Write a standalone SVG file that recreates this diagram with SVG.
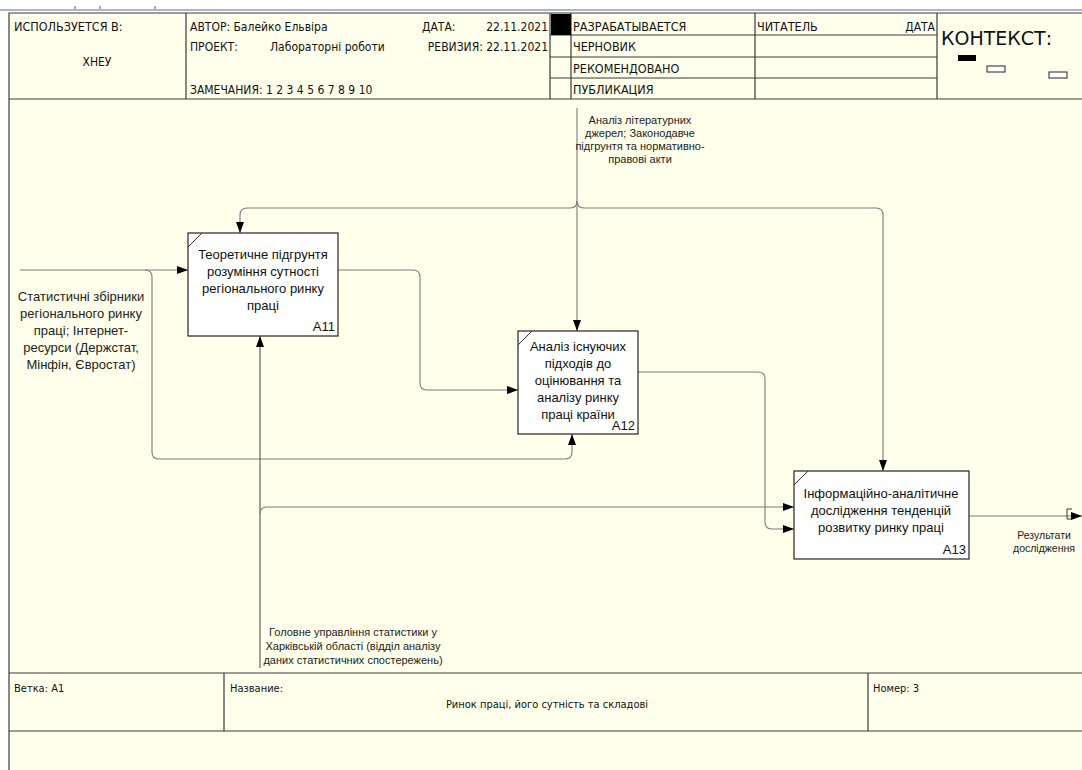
<svg xmlns="http://www.w3.org/2000/svg" width="1082" height="770" viewBox="0 0 1082 770">
<defs>
<marker id="ar" markerWidth="12" markerHeight="8" refX="11" refY="4" orient="auto" markerUnits="userSpaceOnUse">
<path d="M0,0 L11,4 L0,8 Z" fill="#000"/>
</marker>
<style>
.frm{stroke:#3a3a3a;stroke-width:1.2;fill:none}
.hd{font-family:"DejaVu Sans Condensed","DejaVu Sans",sans-serif;font-size:12px;fill:#111}
.hc{font-family:"DejaVu Sans Condensed","DejaVu Sans",sans-serif;font-size:12.5px;fill:#111}
.ft{font-family:"DejaVu Sans Condensed","DejaVu Sans",sans-serif;font-size:11px;fill:#111}
.nd{fill:#fff;stroke:#222;stroke-width:1.2}
.nt{font-family:"Liberation Sans",Arial,sans-serif;font-size:13px;fill:#111;text-anchor:middle}
.nn{font-family:"Liberation Sans",Arial,sans-serif;font-size:13px;fill:#111;text-anchor:end}
.cn{fill:none;stroke:#7a7a7a;stroke-width:1.1}
.lb{font-family:"Liberation Sans",Arial,sans-serif;font-size:11px;fill:#222;text-anchor:middle}
.lr{font-family:"Liberation Sans",Arial,sans-serif;font-size:10.5px;fill:#222;text-anchor:middle}
.lb2{font-family:"Liberation Sans",Arial,sans-serif;font-size:13px;fill:#222;text-anchor:middle}
</style>
</defs>
<rect x="0" y="0" width="1082" height="770" fill="#fff"/>
<rect x="0" y="9" width="1082" height="2" fill="#a8b6cc"/>
<g stroke="#556" stroke-width="1"><line x1="75" y1="6" x2="75" y2="9"/><line x1="100" y1="6" x2="100" y2="9"/><line x1="155" y1="6" x2="155" y2="9"/></g>
<rect x="9" y="13" width="1080" height="760" fill="#ffffeb"/>
<g id="frame" class="frm">
<path d="M9,770 V13 H1082"/>
<line x1="9" y1="99" x2="1082" y2="99"/>
<line x1="186" y1="13" x2="186" y2="99"/>
<line x1="550" y1="13" x2="550" y2="99"/>
<line x1="571" y1="13" x2="571" y2="99"/>
<line x1="755" y1="13" x2="755" y2="99"/>
<line x1="937" y1="13" x2="937" y2="99"/>
<line x1="550" y1="35" x2="937" y2="35"/>
<line x1="550" y1="57" x2="937" y2="57"/>
<line x1="550" y1="78" x2="937" y2="78"/>
<line x1="9" y1="673" x2="1082" y2="673"/>
<line x1="9" y1="731" x2="1082" y2="731"/>
<line x1="224" y1="673" x2="224" y2="731"/>
<line x1="868" y1="673" x2="868" y2="731"/>
</g>
<g id="header">
<rect x="551" y="14" width="20" height="21" fill="#000"/>
<text class="hc" x="14" y="31">ИСПОЛЬЗУЕТСЯ В:</text>
<text class="hd" x="97" y="66" text-anchor="middle">ХНЕУ</text>
<text class="hd" x="190" y="31">АВТОР: Балейко Ельвіра</text>
<text class="hd" x="422" y="31">ДАТА:</text>
<text class="hd" x="548" y="31" text-anchor="end">22.11.2021</text>
<text class="hd" x="190" y="51">ПРОЕКТ:</text>
<text class="hd" x="270" y="51">Лабораторні роботи</text>
<text class="hd" x="548" y="51" text-anchor="end">РЕВИЗИЯ: 22.11.2021</text>
<text class="hd" x="190" y="94">ЗАМЕЧАНИЯ:  1 2 3 4 5 6 7 8 9 10</text>
<text class="hc" x="573" y="31">РАЗРАБАТЫВАЕТСЯ</text>
<text class="hc" x="573" y="51">ЧЕРНОВИК</text>
<text class="hc" x="573" y="73">РЕКОМЕНДОВАНО</text>
<text class="hc" x="573" y="94">ПУБЛИКАЦИЯ</text>
<text class="hc" x="757" y="31">ЧИТАТЕЛЬ</text>
<text class="hd" x="935" y="31" text-anchor="end">ДАТА</text>
<text x="941" y="45" font-family="DejaVu Sans, sans-serif" font-size="19" fill="#111">КОНТЕКСТ:</text>
<rect x="958" y="55" width="18" height="6" fill="#000"/>
<rect x="987" y="66" width="18" height="6" fill="#fff" stroke="#222" stroke-width="1"/>
<rect x="1049" y="72" width="18" height="6" fill="#fff" stroke="#222" stroke-width="1"/>
</g>
<g id="footer">
<text class="ft" x="14" y="692">Ветка: A1</text>
<text class="ft" x="230" y="692">Название:</text>
<text class="ft" x="547" y="708" text-anchor="middle" font-size="10.2">Ринок праці, його сутність та складові</text>
<text class="ft" x="873" y="692">Номер: 3</text>
</g>
<g id="connectors">
<path class="cn" d="M20,270 H188" marker-end="url(#ar)"/>
<path class="cn" d="M145,270 Q152,270 152,277 V452 Q152,459 159,459 H565 Q572,459 572,452 V434" marker-end="url(#ar)"/>
<path class="cn" d="M338,270 H413 Q420,270 420,277 V383 Q420,390 427,390 H518" marker-end="url(#ar)"/>
<path class="cn" d="M577,108 V331" marker-end="url(#ar)"/>
<path class="cn" d="M577,201 Q577,208 570,208 H247 Q240,208 240,215 V233" marker-end="url(#ar)"/>
<path class="cn" d="M577,201 Q577,208 584,208 H876 Q883,208 883,215 V471" marker-end="url(#ar)"/>
<path class="cn" d="M260,668 V336" marker-end="url(#ar)" style="stroke:#555"/>
<path class="cn" d="M260,514 Q260,507 267,507 H794" marker-end="url(#ar)"/>
<path class="cn" d="M638,372 H758 Q765,372 765,379 V522 Q765,529 772,529 H794" marker-end="url(#ar)"/>
<path class="cn" d="M969,516 H1082" marker-end="url(#ar)"/>
<path d="M1072,509 H1067 V519 H1072" fill="none" stroke="#333" stroke-width="1"/>
<text class="lb"><tspan x="640" y="124">Аналіз літературних</tspan><tspan x="640" y="137">джерел; Законодавче</tspan><tspan x="640" y="150">підгрунтя та нормативно-</tspan><tspan x="640" y="163">правові акти</tspan></text>
<text class="lb"><tspan x="353" y="636">Головне управління статистики у</tspan><tspan x="353" y="650">Харківській області (відділ аналізу</tspan><tspan x="353" y="664">даних статистичних спостережень)</tspan></text>
<text class="lb2"><tspan x="81" y="301">Статистичні збірники</tspan><tspan x="81" y="318">регіонального ринку</tspan><tspan x="81" y="335">праці; Інтернет-</tspan><tspan x="81" y="352">ресурси (Держстат,</tspan><tspan x="81" y="369">Мінфін, Євростат)</tspan></text>
<text class="lr"><tspan x="1044" y="539">Результати</tspan><tspan x="1044" y="552">дослідження</tspan></text>
</g>
<g id="A11">
<rect class="nd" x="188" y="233" width="150" height="103"/>
<line x1="188" y1="247" x2="202" y2="233" stroke="#333" stroke-width="1"/>
<text class="nt"><tspan x="263" y="259">Теоретичне підгрунтя</tspan><tspan x="263" y="276">розуміння сутності</tspan><tspan x="263" y="293">регіонального ринку</tspan><tspan x="263" y="310">праці</tspan></text>
<text class="nn" x="335" y="331">A11</text>
</g>
<g id="A12">
<rect class="nd" x="518" y="331" width="120" height="103"/>
<line x1="518" y1="345" x2="532" y2="331" stroke="#333" stroke-width="1"/>
<text class="nt"><tspan x="578" y="351">Аналіз існуючих</tspan><tspan x="578" y="368">підходів до</tspan><tspan x="578" y="385">оцінювання та</tspan><tspan x="578" y="402">аналізу ринку</tspan><tspan x="578" y="419">праці країни</tspan></text>
<text class="nn" x="635" y="430">A12</text>
</g>
<g id="A13">
<rect class="nd" x="794" y="471" width="175" height="88"/>
<line x1="794" y1="485" x2="808" y2="471" stroke="#333" stroke-width="1"/>
<text class="nt"><tspan x="881" y="498">Інформаційно-аналітичне</tspan><tspan x="881" y="515">дослідження тенденцій</tspan><tspan x="881" y="532">розвитку ринку праці</tspan></text>
<text class="nn" x="966" y="554">A13</text>
</g>
</svg>
